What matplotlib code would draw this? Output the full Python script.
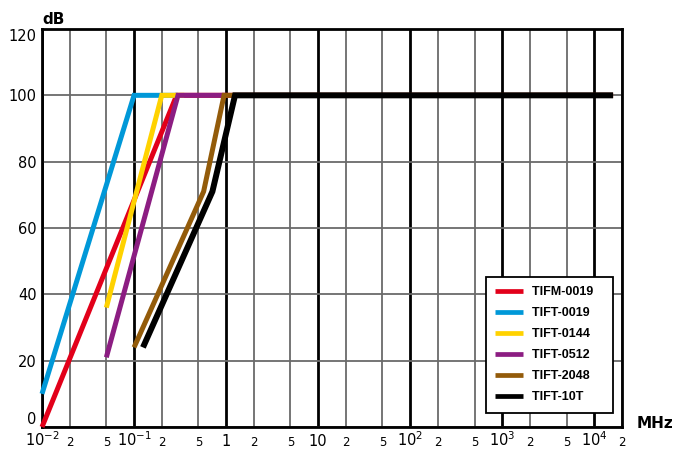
import matplotlib
matplotlib.use("Agg")
import matplotlib.pyplot as plt
from matplotlib.ticker import FixedLocator, FixedFormatter

# ---- data ----
series_names = ["TIFM-0019", "TIFT-0019", "TIFT-0144", "TIFT-0512", "TIFT-2048", "TIFT-10T"]
series_colors = ["#E2001A", "#0098D8", "#FFD200", "#8C1D82", "#935B0A", "#000000"]

f_tifm0019 = [0.01, 0.29, 1.6e4]
db_tifm0019 = [0, 100, 100]
f_tift0019 = [0.01, 0.1, 0.3]
db_tift0019 = [10, 100, 100]
f_tift0144 = [0.05, 0.2, 0.35]
db_tift0144 = [36, 100, 100]
f_tift0512 = [0.05, 0.3, 1.0]
db_tift0512 = [21, 100, 100]
f_tift2048 = [0.1, 0.57, 0.95, 1.6e4]
db_tift2048 = [24, 71, 100, 100]
f_tift10t = [0.125, 0.71, 1.25, 1.6e4]
db_tift10t = [24, 71, 100, 100]

major_ticks = [1e-2, 1e-1, 1, 10, 1e2, 1e3, 1e4]
major_labels = ["$10^{-2}$", "$10^{-1}$", "1", "10", "$10^{2}$", "$10^{3}$", "$10^{4}$"]
minor_mult = [2, 5]
y_ticks = [0, 20, 40, 60, 80, 100, 120]
x_min, x_max = 1e-2, 2e4

# ---- figure ----
fig = plt.figure(figsize=(6.76, 4.50), dpi=100)
ax = fig.add_axes([42/676, (450-427)/450, (622-42)/676, (427-29)/450])
ax.set_xscale("log")
ax.set_xlim(x_min, x_max)
ax.set_ylim(0, 120)

minor_ticks = [m*d for d in major_ticks for m in minor_mult if m*d <= x_max*1.0001]
minor_labels = [str(m) for d in major_ticks for m in minor_mult if m*d <= x_max*1.0001]

ax.xaxis.set_major_locator(FixedLocator(major_ticks))
ax.xaxis.set_major_formatter(FixedFormatter(major_labels))
ax.xaxis.set_minor_locator(FixedLocator(minor_ticks))
ax.xaxis.set_minor_formatter(FixedFormatter(minor_labels))
ax.yaxis.set_major_locator(FixedLocator(y_ticks))
ax.set_yticklabels([str(v) for v in y_ticks])

ax.grid(which="major", axis="x", color="black", lw=2.0, zorder=0)
ax.grid(which="minor", axis="x", color="#6a6a6a", lw=1.3, zorder=0)
ax.grid(which="major", axis="y", color="#6a6a6a", lw=1.3, zorder=0)
ax.set_axisbelow(True)

ax.tick_params(axis="x", which="both", length=0, pad=14)
ax.tick_params(axis="x", which="major", labelsize=10.5)
ax.tick_params(axis="x", which="minor", labelsize=8.5)
ax.tick_params(axis="y", length=0, pad=4, labelsize=10.5)
for lab in ax.get_xticklabels(which="both"):
    lab.set_verticalalignment("baseline")
ylabs = ax.get_yticklabels()
ylabs[0].set_verticalalignment("bottom")
ylabs[-1].set_verticalalignment("top")

for s in ax.spines.values():
    s.set_linewidth(2.0)
    s.set_color("black")

xs = [f_tifm0019, f_tift0019, f_tift0144, f_tift0512, f_tift2048, f_tift10t]
ys = [db_tifm0019, db_tift0019, db_tift0144, db_tift0512, db_tift2048, db_tift10t]
draw_order = [1, 2, 0, 3, 4, 5]
handles = {}
for i in draw_order:
    lw = 4.3 if i == 5 else 3.6
    ln, = ax.plot(xs[i], ys[i], color=series_colors[i], lw=lw, solid_capstyle="butt",
                  solid_joinstyle="miter", clip_on=False, zorder=3 + i, label=series_names[i])
    handles[i] = ln

leg = ax.legend([handles[i] for i in range(6)], [n + "   " for n in series_names], loc="lower right",
                bbox_to_anchor=(0.984, 0.036), borderaxespad=0, frameon=True, fancybox=False,
                edgecolor="black", framealpha=1,
                prop={"family": "Liberation Sans", "weight": "bold", "size": 9},
                handlelength=2.25, handletextpad=0.65, labelspacing=0.72, borderpad=0.75)
leg.get_frame().set_linewidth(1.3)
for h in leg.legend_handles:
    h.set_linewidth(3.4)

fig.text(42/676, (450-24)/450, "dB", fontsize=11, fontweight="bold", ha="left", va="baseline")
fig.text(673/676, (450-428)/450, "MHz", fontsize=11, fontweight="bold", ha="right", va="baseline")

fig.savefig("out.png", dpi=100)
